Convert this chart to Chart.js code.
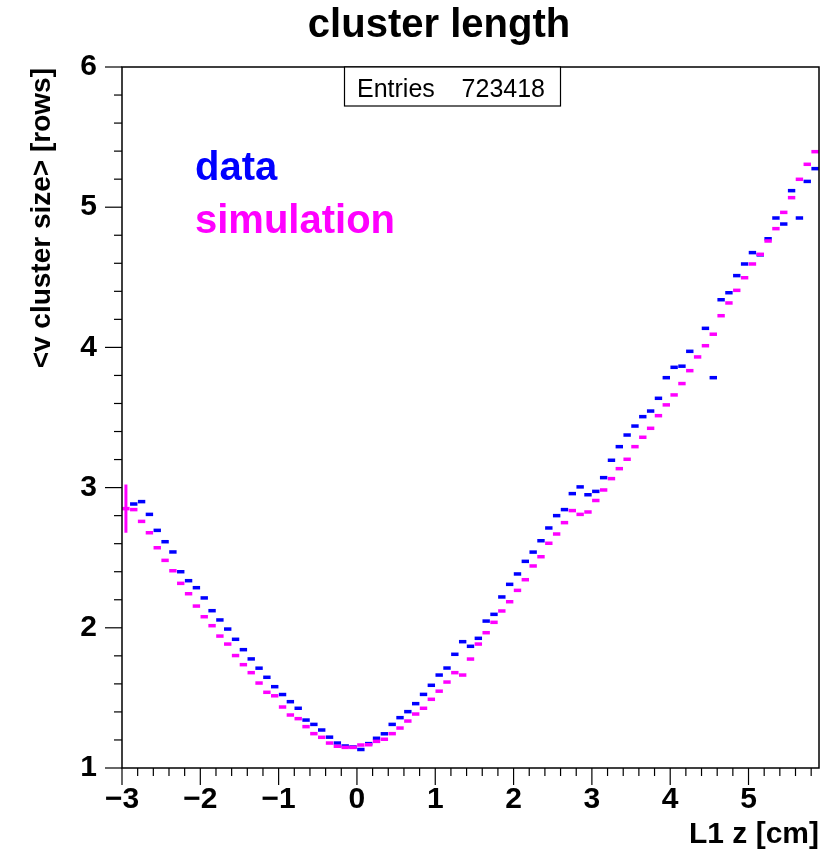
<!DOCTYPE html>
<html>
<head>
<meta charset="utf-8">
<script src="https://cdn.jsdelivr.net/npm/chart.js@4.4.1/dist/chart.umd.min.js"></script>
<style>
html,body{margin:0;padding:0;background:#fff;}
canvas{display:block;}
</style>
</head>
<body>
<canvas id="c" width="829" height="850"></canvas>
<script>
// ---- data ----
const binCenters = [
 -2.95,-2.85,-2.75,-2.65,-2.55,-2.45,-2.35,-2.25,-2.15,-2.05,
 -1.95,-1.85,-1.75,-1.65,-1.55,-1.45,-1.35,-1.25,-1.15,-1.05,
 -0.95,-0.85,-0.75,-0.65,-0.55,-0.45,-0.35,-0.25,-0.15,-0.05,
  0.05, 0.15, 0.25, 0.35, 0.45, 0.55, 0.65, 0.75, 0.85, 0.95,
  1.05, 1.15, 1.25, 1.35, 1.45, 1.55, 1.65, 1.75, 1.85, 1.95,
  2.05, 2.15, 2.25, 2.35, 2.45, 2.55, 2.65, 2.75, 2.85, 2.95,
  3.05, 3.15, 3.25, 3.35, 3.45, 3.55, 3.65, 3.75, 3.85, 3.95,
  4.05, 4.15, 4.25, 4.35, 4.45, 4.55, 4.65, 4.75, 4.85, 4.95,
  5.05, 5.15, 5.25, 5.35, 5.45, 5.55, 5.65, 5.75, 5.85
];
const dataValues = [
 null, 2.883,2.900,2.809,2.695,2.614,2.541,2.400,2.336,2.286,
 2.213,2.122,2.056,1.991,1.918,1.844,1.778,1.712,1.647,1.580,
 1.524,1.473,1.426,1.342,1.311,1.271,1.220,1.178,1.157,1.150,
 1.132,1.174,1.212,1.244,1.311,1.359,1.402,1.459,1.525,1.590,
 1.663,1.713,1.811,1.901,1.868,1.925,2.048,2.096,2.220,2.310,
 2.384,2.474,2.540,2.621,2.712,2.800,2.843,2.957,3.005,2.949,
 2.973,3.071,3.195,3.292,3.375,3.439,3.506,3.546,3.637,3.784,
 3.858,3.866,3.972,null, 4.136,3.784,4.340,4.390,4.512,4.595,
 4.676,4.660,4.775,4.923,4.880,5.118,4.923,5.184,5.275
];
const simValues = [
 2.850,2.843,2.759,2.678,2.571,2.481,2.407,2.317,2.243,2.155,
 2.079,2.015,1.941,1.884,1.802,1.737,1.680,1.606,1.540,1.515,
 1.435,1.378,1.352,1.295,1.245,1.219,1.178,1.155,1.147,1.147,
 1.164,1.166,1.190,1.205,1.245,1.285,1.335,1.385,1.426,1.490,
 1.548,1.613,1.680,1.663,1.777,1.884,1.965,2.039,2.120,2.186,
 2.267,2.343,2.441,2.507,2.603,2.669,2.750,2.836,2.809,2.826,
 2.908,2.983,3.064,3.135,3.202,3.292,3.359,3.423,3.513,3.590,
 3.661,3.742,3.834,3.932,4.012,4.094,4.226,4.317,4.407,4.497,
 4.595,4.664,4.759,4.847,4.963,5.068,5.199,5.306,5.396
];
const simErrBins = [0];
const simErrSizes = [0.172];
const xTicks = [-3,-2,-1,0,1,2,3,4,5];
const xTickLabels = ['\u22123','\u22122','\u22121','0','1','2','3','4','5'];
const yTicks = [1,2,3,4,5,6];
const yTickLabels = ['1','2','3','4','5','6'];
const titleText = 'cluster length';
const xTitle = 'L1 z [cm]';
const yTitle = '<v cluster size> [rows]';
const legendLabels = ['data','simulation'];
const entriesLabel = 'Entries';
const entriesValue = '723418';

const FONT = '"Liberation Sans", Arial, Helvetica, sans-serif';
const BLUE = '#0000ff';
const MAGENTA = '#ff00ff';

function pts(vals){ return binCenters.map((x,i)=>({x:x, y:vals[i]})); }

const overlay = {
  id:'overlay',
  afterDatasetsDraw(chart){
    const ctx = chart.ctx, xs = chart.scales.x, ys = chart.scales.y;
    ctx.save();
    ctx.strokeStyle = MAGENTA; ctx.lineWidth = 3;
    simErrBins.forEach((b,k)=>{
      const px = xs.getPixelForValue(binCenters[b]);
      const v = simValues[b], e = simErrSizes[k];
      ctx.beginPath();
      ctx.moveTo(px, ys.getPixelForValue(v - e));
      ctx.lineTo(px, ys.getPixelForValue(v + e));
      ctx.stroke();
    });
    ctx.restore();
  },
  afterDraw(chart){
    const ctx = chart.ctx, xs = chart.scales.x, ys = chart.scales.y, a = chart.chartArea;
    ctx.save();
    // frame
    ctx.strokeStyle = '#000'; ctx.lineWidth = 1.5;
    ctx.strokeRect(a.left, a.top, a.right - a.left, a.bottom - a.top);
    // ticks
    ctx.lineWidth = 1.2;
    const majorLen = 17, minorLen = 8;
    for (let v = ys.min; v <= ys.max + 1e-9; v += 0.2) {
      const py = ys.getPixelForValue(v);
      const isMajor = Math.abs(v - Math.round(v)) < 1e-6;
      ctx.beginPath(); ctx.moveTo(a.left, py); ctx.lineTo(a.left - (isMajor ? majorLen : minorLen), py); ctx.stroke();
    }
    for (let v = xs.min; v <= xs.max + 1e-9; v += 0.2) {
      const px = xs.getPixelForValue(v);
      const isMajor = Math.abs(v - Math.round(v)) < 1e-6;
      ctx.beginPath(); ctx.moveTo(px, a.bottom); ctx.lineTo(px, a.bottom + (isMajor ? majorLen : minorLen)); ctx.stroke();
    }
    // title
    ctx.fillStyle = '#000';
    ctx.font = 'bold 40px ' + FONT;
    ctx.textAlign = 'center'; ctx.textBaseline = 'alphabetic';
    ctx.fillText(titleText, 439, 37);
    // x title
    ctx.font = 'bold 30px ' + FONT;
    ctx.textAlign = 'right';
    ctx.fillText(xTitle, a.right, 843);
    // y title
    ctx.save();
    ctx.font = 'bold 28px ' + FONT;
    ctx.translate(50, a.top + 1);
    ctx.rotate(-Math.PI/2);
    ctx.textAlign = 'right';
    ctx.fillText(yTitle, 0, 0);
    ctx.restore();
    // legend texts
    ctx.textAlign = 'left';
    ctx.font = 'bold 40px ' + FONT;
    ctx.fillStyle = BLUE; ctx.fillText(legendLabels[0], 195, 180);
    ctx.fillStyle = MAGENTA; ctx.fillText(legendLabels[1], 195, 233);
    // stats box
    ctx.fillStyle = '#fff';
    ctx.fillRect(344, a.top, 217, 39);
    ctx.strokeStyle = '#000'; ctx.lineWidth = 1.2;
    ctx.strokeRect(344.5, a.top, 216, 39);
    ctx.fillStyle = '#000';
    ctx.font = '25px ' + FONT;
    ctx.textAlign = 'left'; ctx.fillText(entriesLabel, 357, 97);
    ctx.textAlign = 'right'; ctx.fillText(entriesValue, 545, 97);
    ctx.restore();
  }
};

new Chart(document.getElementById('c'), {
  type:'scatter',
  data:{
    datasets:[
      { label: legendLabels[1], data: pts(simValues), order:0,
        pointStyle:'line', pointRadius:3.7, pointHoverRadius:3.7,
        pointBorderWidth:3.5, pointHoverBorderWidth:3.5, borderColor:MAGENTA, backgroundColor:MAGENTA, showLine:false },
      { label: legendLabels[0], data: pts(dataValues), order:1,
        pointStyle:'line', pointRadius:3.7, pointHoverRadius:3.7,
        pointBorderWidth:3.5, pointHoverBorderWidth:3.5, borderColor:BLUE, backgroundColor:BLUE, showLine:false }
    ]
  },
  options:{
    responsive:false, animation:false, devicePixelRatio:1,
    layout:{ padding:{ top:67, right:10, left:0, bottom:0 } },
    plugins:{ legend:{display:false}, title:{display:false}, tooltip:{enabled:false} },
    events:[],
    scales:{
      x:{ type:'linear', min:-3, max:5.9,
        grid:{ display:false, drawTicks:false },
        border:{ display:false },
        afterFit(s){ s.height = 82; },
        afterBuildTicks(s){ s.ticks = xTicks.map(v=>({value:v})); },
        ticks:{ autoSkip:false, maxRotation:0, padding:14, color:'#000',
          font:{ family:FONT, size:30, weight:'bold' },
          callback(v){ const i = xTicks.indexOf(v); return i >= 0 ? xTickLabels[i] : ''; } }
      },
      y:{ type:'linear', min:1, max:6,
        grid:{ display:false, drawTicks:false },
        border:{ display:false },
        afterFit(s){ s.width = 122; },
        afterBuildTicks(s){ s.ticks = yTicks.map(v=>({value:v})); },
        ticks:{ padding:25, color:'#000',
          font:{ family:FONT, size:30, weight:'bold' },
          callback(v){ const i = yTicks.indexOf(v); return i >= 0 ? yTickLabels[i] : ''; } }
      }
    }
  },
  plugins:[overlay]
});
</script>
</body>
</html>
